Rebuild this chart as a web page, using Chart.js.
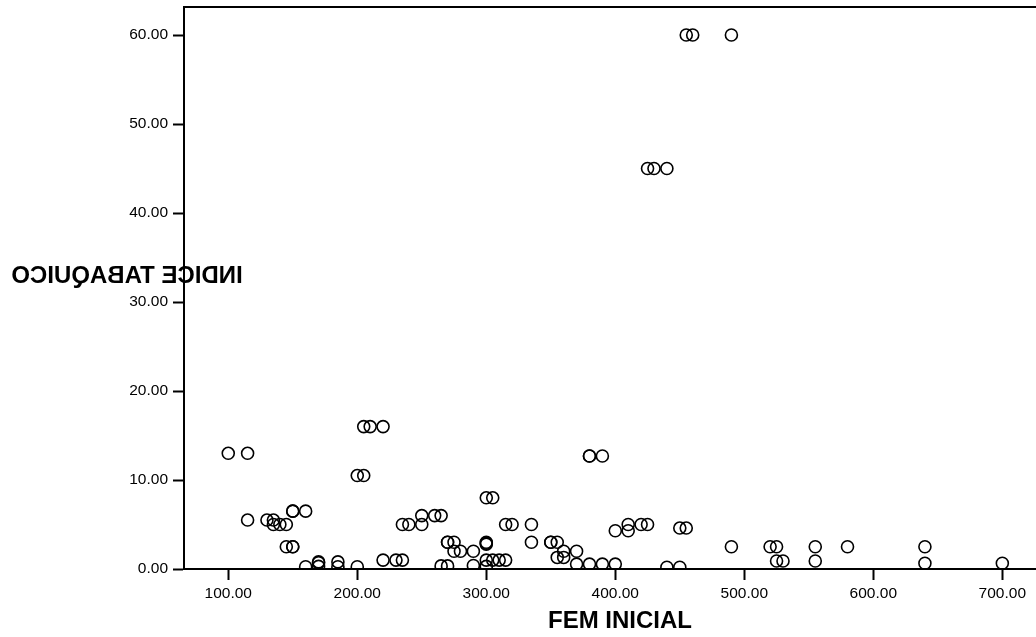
<!DOCTYPE html>
<html>
<head>
<meta charset="utf-8">
<script src="https://cdn.jsdelivr.net/npm/chart.js@4/dist/chart.umd.min.js"></script>
<style>
  html, body { margin: 0; padding: 0; background: #fff; }
  canvas { display: block; }
</style>
</head>
<body>
<canvas id="scatter" width="1036" height="637"></canvas>
<script>
// FEM inicial vs indice tabaquico, one point per patient
const femInicial = [
  100, 115, 115, 130, 135, 135, 140, 145, 150, 150, 160, 145, 150, 150,
  160, 170, 170, 170, 185, 185, 200, 205, 210, 220, 200, 205,
  220, 230, 235, 235, 240, 250, 250, 260, 265, 270, 270, 275, 275, 280, 290,
  265, 270, 290, 300, 305, 300, 300, 300, 300, 300, 305, 310, 315,
  315, 320, 335, 335, 350, 350, 355, 360, 355, 360, 370,
  370, 380, 390, 400, 380, 380, 390, 400, 410, 410, 420, 425,
  450, 455, 440, 450, 490, 520, 525, 525, 530, 555, 555, 580,
  640, 640, 700, 455, 460, 490, 425, 430, 440
];
const indiceTabaquico = [
  13, 13, 5.5, 5.5, 5.5, 5, 5, 5, 6.5, 6.5, 6.5, 2.5, 2.5, 2.5,
  0.25, 0.8, 0.7, 0.3, 0.8, 0.25, 0.25, 16, 16, 16, 10.5, 10.5,
  1, 1, 1, 5, 5, 6, 5, 6, 6, 3, 3, 3, 2, 2, 2,
  0.35, 0.35, 0.4, 8, 8, 2.8, 3, 2.9, 1, 0.3, 1, 1, 1,
  5, 5, 5, 3, 3, 3, 3, 2, 1.3, 1.3, 2,
  0.55, 0.55, 0.55, 0.55, 12.7, 12.7, 12.7, 4.3, 5, 4.3, 5, 5,
  4.6, 4.6, 0.2, 0.2, 2.5, 2.5, 2.5, 0.9, 0.9, 2.5, 0.9, 2.5,
  2.5, 0.65, 0.65, 60, 60, 60, 45, 45, 45
];
const xTicks = [100, 200, 300, 400, 500, 600, 700];
const yTicks = [0, 10, 20, 30, 40, 50, 60];
const xTitle = 'FEM INICIAL';
const yTitle = 'INDICE TABAQUICO';

const points = femInicial.map((x, i) => ({ x: x, y: indiceTabaquico[i] }));

const FONT = '"Liberation Sans", Arial, sans-serif';

// top frame line plus the two axis titles (y title comes out mirrored)
const frameAndTitles = {
  id: 'frameAndTitles',
  afterDraw(chart) {
    const ctx = chart.ctx;
    const a = chart.chartArea;
    ctx.save();
    ctx.strokeStyle = '#000';
    ctx.lineWidth = 2;
    ctx.beginPath();
    ctx.moveTo(a.left, a.top);
    ctx.lineTo(a.right, a.top);
    ctx.stroke();

    ctx.fillStyle = '#000';
    ctx.font = 'bold 24px ' + FONT;
    ctx.textAlign = 'center';
    ctx.textBaseline = 'middle';
    ctx.fillText(xTitle, 620, 621);

    ctx.translate(127, 276);
    ctx.scale(-1, 1);
    ctx.fillText(yTitle, 0, 0);
    ctx.restore();
  }
};

const axisGrid = {
  display: true,
  drawOnChartArea: false,
  drawTicks: true,
  tickLength: 11,
  tickColor: '#000',
  tickWidth: 2
};

new Chart(document.getElementById('scatter'), {
  type: 'scatter',
  data: {
    datasets: [{
      data: points,
      pointStyle: 'circle',
      pointRadius: 6,
      pointBorderWidth: 1.6,
      borderColor: '#000',
      backgroundColor: 'rgba(0,0,0,0)'
    }]
  },
  options: {
    responsive: false,
    animation: false,
    events: [],
    layout: { autoPadding: false, padding: { top: 7, right: 0, bottom: 0, left: 0 } },
    plugins: {
      legend: { display: false },
      tooltip: { enabled: false }
    },
    scales: {
      x: {
        type: 'linear',
        min: 65.7,
        max: 726.1,
        afterFit: s => { s.height = 68; s.paddingLeft = 0; s.paddingRight = 0; },
        afterBuildTicks: s => { s.ticks = xTicks.map(v => ({ value: v })); },
        grid: axisGrid,
        border: { display: true, color: '#000', width: 2 },
        ticks: {
          color: '#000',
          padding: 4,
          font: { family: FONT, size: 15.5 },
          maxRotation: 0,
          callback: v => v.toFixed(2)
        }
      },
      y: {
        type: 'linear',
        min: 0,
        max: 63.15,
        afterFit: s => { s.width = 184; s.paddingTop = 0; s.paddingBottom = 0; },
        afterBuildTicks: s => { s.ticks = yTicks.map(v => ({ value: v })); },
        grid: axisGrid,
        border: { display: true, color: '#000', width: 2 },
        ticks: {
          color: '#000',
          padding: 5,
          font: { family: FONT, size: 15.5 },
          callback: v => v.toFixed(2)
        }
      }
    }
  },
  plugins: [frameAndTitles]
});
</script>
</body>
</html>
